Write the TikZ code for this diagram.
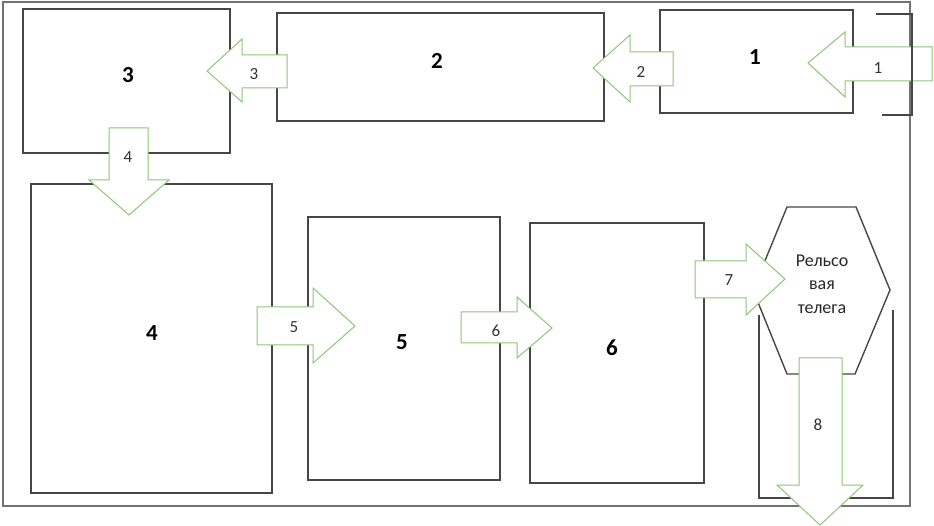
\documentclass[tikz,border=0pt]{standalone}
\usepackage{fontspec}
\setmainfont{Carlito}
\begin{document}
\begin{tikzpicture}[x=1pt,y=-1pt,
  box/.style={draw=boxgray,line width=1.4pt,minimum width=#1,inner sep=0pt},
  frame/.style={draw=framegray,line width=2pt},
  flow/.style={draw=arrowgreen,fill=white,line width=1pt,line join=miter},
  boxlabel/.style={font=\bfseries\fontsize{23}{25}\selectfont,inner sep=0pt},
  arrlabel/.style={font=\fontsize{17}{19}\selectfont,inner sep=0pt,text=black!80}]
\definecolor{boxgray}{RGB}{70,70,70}
\definecolor{framegray}{RGB}{115,115,115}
\definecolor{arrowgreen}{RGB}{140,198,120}
\useasboundingbox (0,0) rectangle (934,526);
% outer frame
\draw[frame] (3,2) rectangle (910,506);
% boxes
\node[box=193pt,minimum height=103pt] (b1) at (756.5,61.5) {};
\node[box=327pt,minimum height=108pt] (b2) at (440.5,67) {};
\node[box=207pt,minimum height=144pt] (b3) at (126.5,81) {};
\node[box=241pt,minimum height=309pt] (b4) at (151.5,338.5) {};
\node[box=192pt,minimum height=263pt] (b5) at (404,348.5) {};
\node[box=174pt,minimum height=260pt] (b6) at (617,353) {};
% cart (hexagon) and tray
\draw[draw=boxgray,line width=1.4pt] (787,207) -- (856,207) -- (890,290) -- (855,374) -- (787,374) -- (753,290) -- cycle;
\draw[draw=boxgray,line width=1.4pt] (759,315) -- (759,498) -- (893,498) -- (893,310);
\node[align=center,font=\fontsize{18}{23.5}\selectfont,inner sep=0pt,text=black!85] (cart) at (822,284) {Рельсо\\вая\\телега};
% box labels
\node[boxlabel] (l1) at (755,57) {1};
\node[boxlabel] (l2) at (437,61) {2};
\node[boxlabel] (l3) at (128,75) {3};
\node[boxlabel] (l4) at (152,333) {4};
\node[boxlabel] (l5) at (402,342) {5};
\node[boxlabel] (l6) at (612,348) {6};
% flow arrows
\draw[flow] (932,47) -- (845,47) -- (845,32) -- (808,63) -- (845,97) -- (845,81) -- (932,81) -- cycle;
\draw[flow] (673,52) -- (630,52) -- (630,35) -- (593,68) -- (630,102) -- (630,86) -- (673,86) -- cycle;
\draw[flow] (287,55) -- (242,55) -- (242,39) -- (207,71) -- (242,102) -- (242,88) -- (287,88) -- cycle;
\draw[flow] (109,128) -- (148,128) -- (148,180) -- (169,180) -- (129,215) -- (89,180) -- (109,180) -- cycle;
\draw[flow] (257,307) -- (313,307) -- (313,288) -- (355,326) -- (313,363) -- (313,345) -- (257,345) -- cycle;
\draw[flow] (461,312) -- (517,312) -- (517,297) -- (552,328) -- (517,358) -- (517,343) -- (461,343) -- cycle;
\draw[flow] (695,261) -- (746,261) -- (746,244) -- (785,279) -- (746,315) -- (746,298) -- (695,298) -- cycle;
\draw[flow] (799,358) -- (842,358) -- (842,485) -- (863,485) -- (820,525) -- (777,485) -- (799,485) -- cycle;
% bracket on the right
\draw[draw=boxgray,line width=1.4pt] (876,14) -- (912,14) -- (912,115) -- (882,115);
% arrow labels
\node[arrlabel] (a1) at (878,68) {1};
\node[arrlabel] (a2) at (641,72) {2};
\node[arrlabel] (a3) at (254,74) {3};
\node[arrlabel] (a4) at (128,157) {4};
\node[arrlabel] (a5) at (294,327) {5};
\node[arrlabel] (a6) at (496,331) {6};
\node[arrlabel] (a7) at (729,280) {7};
\node[arrlabel] (a8) at (818,425) {8};
\end{tikzpicture}
\end{document}
